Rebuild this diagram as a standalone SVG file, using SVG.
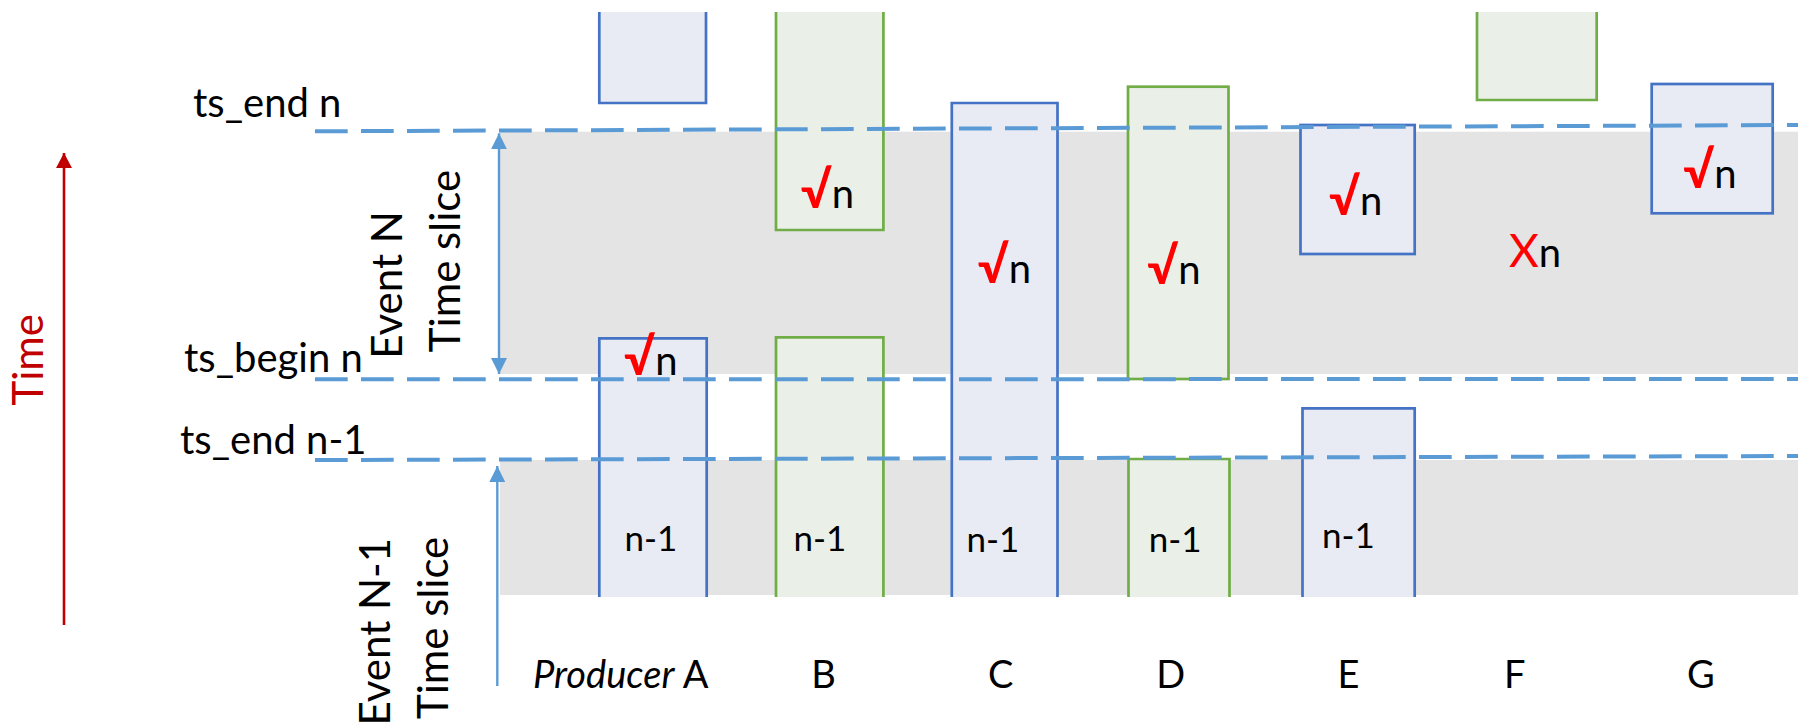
<svg xmlns="http://www.w3.org/2000/svg" width="1798" height="724" viewBox="0 0 1798 724">
<defs>
<style>
text{font-family:Lato,"Liberation Sans",sans-serif;fill:#000}
.lbl{font-size:40px}
.rot{font-size:42px}
.col{font-size:38px;text-anchor:middle}
.nm1{font-size:35px;text-anchor:middle}
.ok{font-size:40px;text-anchor:middle}
.red{fill:#FF0000}
.chk{fill:#FF0000;font-size:50px;font-weight:bold}
.band{fill:#E4E4E4}
.bb{fill:#E8EAF4}
.gb{fill:#EAF0E8}
.bs{fill:none;stroke:#4472C4;stroke-width:2.7}
.gs{fill:none;stroke:#70AD47;stroke-width:2.7}
.dash{stroke:#5B9BD5;stroke-width:4;stroke-dasharray:32.7 13.3;fill:none}
.barrow{stroke:#5B9BD5;stroke-width:2.4;fill:none}
</style>
<marker id="ab" markerUnits="userSpaceOnUse" markerWidth="16" markerHeight="16" refX="15" refY="7.5" orient="auto-start-reverse" viewBox="0 0 15 15">
<path d="M0,0 L15,7.5 L0,15 Z" fill="#5B9BD5"/>
</marker>
<marker id="ar" markerUnits="userSpaceOnUse" markerWidth="16" markerHeight="16" refX="14" refY="7.5" orient="auto" viewBox="0 0 15 15">
<path d="M0,0 L14,7.5 L0,15 Z" fill="#C00000"/>
</marker>
</defs>

<g id="bands">
<rect class="band" x="500" y="131.7" width="1298" height="242.3"/>
<rect class="band" x="500" y="460" width="1298" height="135"/>
</g>

<g id="timeAxis">
<line x1="64" y1="625" x2="64" y2="153" stroke="#C00000" stroke-width="2.6" marker-end="url(#ar)"/>
<text transform="translate(42.7,359.7) rotate(-90)" font-size="42" text-anchor="middle" style="fill:#C00000">Time</text>
</g>

<g id="boxA-upper">
<rect class="bb" x="599.3" y="12" width="106.7" height="91"/>
<path class="bs" d="M599.3,12 V103 H706 V12"/>
</g>
<g id="boxA-lower">
<rect class="bb" x="599.3" y="338.3" width="107.4" height="258.7"/>
<path class="bs" d="M599.3,597 V338.3 H706.7 V597"/>
<text class="ok" x="650.8" y="375"><tspan class="chk">√</tspan>n</text>
<text class="nm1" x="651" y="550.7">n-1</text>
</g>
<g id="boxB-upper">
<rect class="gb" x="776" y="12" width="107.4" height="218"/>
<path class="gs" d="M776,12 V230 H883.4 V12"/>
<text class="ok" x="827.5" y="208"><tspan class="chk">√</tspan>n</text>
</g>
<g id="boxB-lower">
<rect class="gb" x="776" y="337.3" width="107.4" height="259.7"/>
<path class="gs" d="M776,597 V337.3 H883.4 V597"/>
<text class="nm1" x="819.8" y="550.7">n-1</text>
</g>
<g id="boxC">
<rect class="bb" x="951.8" y="103" width="105.7" height="494"/>
<path class="bs" d="M951.8,597 V103 H1057.5 V597"/>
<text class="ok" x="1004.5" y="283"><tspan class="chk">√</tspan>n</text>
<text class="nm1" x="992.8" y="551.7">n-1</text>
</g>
<g id="boxD-upper">
<rect class="gb" x="1128" y="86.7" width="100.5" height="292.3"/>
<rect class="gs" x="1128" y="86.7" width="100.5" height="292.3"/>
<text class="ok" x="1174" y="284"><tspan class="chk">√</tspan>n</text>
</g>
<g id="boxD-lower">
<rect class="gb" x="1128.5" y="459" width="101" height="138"/>
<path class="gs" d="M1128.5,597 V459 H1229.5 V597"/>
<text class="nm1" x="1175.2" y="551.7">n-1</text>
</g>
<g id="boxE-upper">
<rect class="bb" x="1300.5" y="125" width="114.2" height="129"/>
<rect class="bs" x="1300.5" y="125" width="114.2" height="129"/>
<text class="ok" x="1355.6" y="215"><tspan class="chk">√</tspan>n</text>
</g>
<g id="boxE-lower">
<rect class="bb" x="1302.5" y="408.3" width="112.2" height="188.7"/>
<path class="bs" d="M1302.5,597 V408.3 H1414.7 V597"/>
<text class="nm1" x="1348.3" y="548.3">n-1</text>
</g>
<g id="boxF-upper">
<rect class="gb" x="1477" y="12" width="119.7" height="88"/>
<path class="gs" d="M1477,12 V100 H1596.7 V12"/>
</g>
<g id="missF">
<text class="ok" x="1535" y="266.7"><tspan class="red" font-size="46">X</tspan>n</text>
</g>
<g id="boxG">
<rect class="bb" x="1651.7" y="84" width="121" height="129.3"/>
<rect class="bs" x="1651.7" y="84" width="121" height="129.3"/>
<text class="ok" x="1710" y="188.3"><tspan class="chk">√</tspan>n</text>
</g>

<g id="guides">
<line class="dash" x1="315" y1="131.3" x2="1798" y2="125"/>
<line class="dash" x1="315" y1="379.3" x2="1798" y2="379"/>
<line class="dash" x1="315" y1="460" x2="1798" y2="456"/>
</g>

<g id="connectors">
<line class="barrow" x1="499" y1="133.3" x2="499" y2="374" marker-start="url(#ab)" marker-end="url(#ab)"/>
<line class="barrow" x1="497.3" y1="686" x2="497.3" y2="466" marker-end="url(#ab)"/>
</g>

<g id="labels">
<text class="lbl" x="193" y="117">ts_end n</text>
<text class="lbl" x="184" y="372">ts_begin n</text>
<text class="lbl" x="180" y="454">ts_end n-1</text>
<text class="rot" transform="translate(401.7,285) rotate(-90)" text-anchor="middle">Event N</text>
<text class="rot" transform="translate(460,261) rotate(-90)" text-anchor="middle">Time slice</text>
<text class="rot" transform="translate(390,538) rotate(-90)" text-anchor="end">Event N-1</text>
<text class="rot" transform="translate(448.3,536.7) rotate(-90)" text-anchor="end">Time slice</text>
</g>

<g id="columns">
<text class="col" x="620.8" y="688.3"><tspan font-style="italic">Producer</tspan> A</text>
<text class="col" x="823.5" y="688.3">B</text>
<text class="col" x="1000.7" y="688.3">C</text>
<text class="col" x="1170.7" y="688.3">D</text>
<text class="col" x="1348.4" y="688.3">E</text>
<text class="col" x="1514.7" y="688.3">F</text>
<text class="col" x="1701" y="688.3">G</text>
</g>
</svg>
